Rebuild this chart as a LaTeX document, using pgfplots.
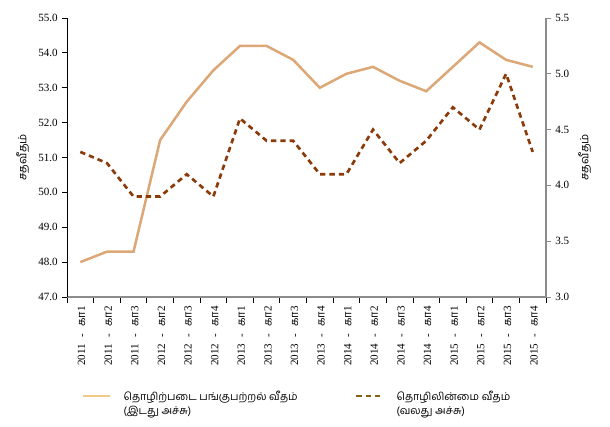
\documentclass[border=0pt]{standalone}
\usepackage{fontspec}
\setmainfont{Liberation Serif}
\newfontfamily\tamil[Script=Tamil]{Hind Madurai}
\usepackage{pgfplots}
\pgfplotsset{compat=1.18}
\definecolor{lfpr}{HTML}{DDA877}
\definecolor{unemp}{HTML}{8B3A0A}
\definecolor{leglfpr}{HTML}{F0CB8A}
\definecolor{legunemp}{HTML}{86600F}
\definecolor{axgray}{HTML}{8C8C8C}
\newcommand{\q}[2]{#1\hspace{0.6em}-\hspace{0.6em}{\tamil கா}#2}
\pgfplotstableread{
x lfpr unemp
0 48.0 4.3
1 48.3 4.2
2 48.3 3.9
3 51.5 3.9
4 52.6 4.1
5 53.5 3.9
6 54.2 4.6
7 54.2 4.4
8 53.8 4.4
9 53.0 4.1
10 53.4 4.1
11 53.6 4.5
12 53.2 4.2
13 52.9 4.4
14 53.6 4.7
15 54.3 4.5
16 53.8 5.0
17 53.6 4.3
}\data
\begin{document}
\begin{tikzpicture}
\pgfplotsset{
  common/.style={
    at={(0,0)}, anchor=south west,
    scale only axis, width=359.25pt, height=209.25pt,
    xmin=-0.5, xmax=17.5,
    tick align=outside,
    /pgf/number format/assume math mode=true,
    /pgf/number format/.cd, fixed, fixed zerofill, precision=1, /pgfplots/.cd,
    tick label style={font=\fontsize{8.3}{10}\selectfont},
    label style={font=\fontsize{8.5}{10}\tamil},
    major tick length=3.5pt,
  }
}
\begin{axis}[common,
  ymin=47, ymax=55, ytick={47,48,...,55},
  axis x line*=bottom, axis y line*=left,
  x axis line style={-, draw=axgray, line width=0.9pt},
  y axis line style={-, draw=black, line width=0.6pt},
  y tick style={black, line width=0.6pt},
  xtick={0,...,17},
  xticklabels={\q{2011}{1},\q{2011}{2},\q{2011}{3},\q{2012}{2},\q{2012}{3},\q{2012}{4},\q{2013}{1},\q{2013}{2},\q{2013}{3},\q{2013}{4},\q{2014}{1},\q{2014}{2},\q{2014}{3},\q{2014}{4},\q{2015}{1},\q{2015}{2},\q{2015}{3},\q{2015}{4}},
  major x tick style={draw=none},
  minor xtick={-0.5,0.5,...,17.5},
  minor x tick style={black, line width=0.6pt},
  minor tick length=4.5pt,
  x tick label style={rotate=90, anchor=east, yshift=-1pt},
  ylabel={சதவீதம்},
]
\addplot[lfpr, line width=1.9pt] table[x=x, y=lfpr] {\data};
\end{axis}
\begin{axis}[common,
  ymin=3, ymax=5.5, ytick={3,3.5,...,5.5},
  axis y line*=right, axis x line=none,
  y axis line style={-, draw=axgray, line width=0.9pt},
  y tick style={axgray, line width=0.6pt},
  ylabel={சதவீதம்},
  legend style={at={(0.031,-0.325)}, anchor=north west, draw=none, fill=none, inner sep=0pt,
    font=\fontsize{8}{11.2}\tamil,
    cells={align=left, anchor=west},
    /tikz/every odd column/.append style={column sep=7.5pt},
    /tikz/every even column/.append style={column sep=41pt}},
  legend columns=2,
  legend image code/.code={\path[draw=none] (0pt,-5.6pt) rectangle (20pt,5.6pt); \draw[#1] (0pt,5.6pt) -- (20pt,5.6pt);},
]
\addlegendimage{leglfpr, line width=1.6pt}
\addlegendentry{தொழிற்படை பங்குபற்றல் வீதம்\\(இடது அச்சு)}
\addlegendimage{legunemp, line width=1.6pt, dash pattern=on 4pt off 3pt}
\addlegendentry{தொழிலின்மை வீதம்\\(வலது அச்சு)}
\addplot[unemp, line width=2pt, dash pattern=on 4pt off 3pt, forget plot] table[x=x, y=unemp] {\data};
\end{axis}
\pgfresetboundingbox
\path[use as bounding box] (-50.25pt,-97.5pt) rectangle (407.25pt,222.75pt);
\end{tikzpicture}
\end{document}
